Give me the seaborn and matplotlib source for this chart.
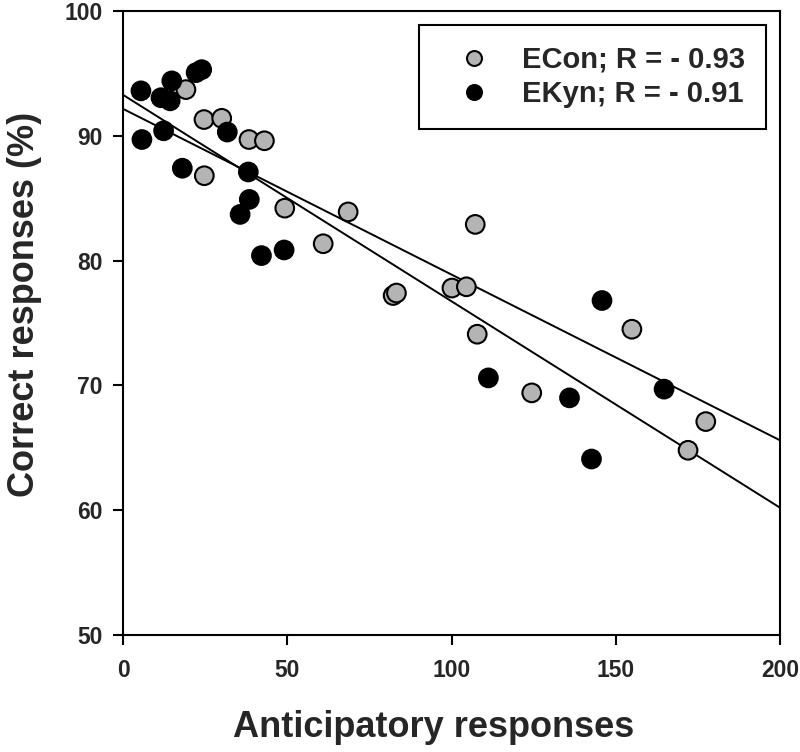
import numpy as np
import pandas as pd
import matplotlib
matplotlib.use("Agg")
import matplotlib.pyplot as plt
import seaborn as sns

# ECon group (grey circles)
econ_x = [19.1, 24.6, 30.0, 38.3, 43.0, 24.7, 49.2, 68.5, 60.9, 107.2,
          82.2, 83.2, 100.1, 104.5, 107.8, 124.4, 177.4, 172.0, 154.9]
econ_y = [93.7, 91.3, 91.4, 89.7, 89.6, 86.8, 84.2, 83.9, 81.35, 82.9,
          77.2, 77.4, 77.8, 77.9, 74.1, 69.4, 67.1, 64.8, 74.5]

# EKyn group (black circles)
ekyn_x = [5.4, 5.7, 12.3, 14.8, 11.5, 14.3, 22.2, 23.9, 18.0, 31.7,
          38.1, 38.4, 35.6, 42.1, 49.0, 111.2, 164.7, 135.9, 142.6, 145.8]
ekyn_y = [93.6, 89.7, 90.4, 94.4, 93.05, 92.8, 95.06, 95.3, 87.4, 90.3,
          87.1, 84.9, 83.7, 80.4, 80.85, 70.6, 69.7, 69.0, 64.1, 76.8]

# regression lines (value at x = 0 and x = 200)
fit_x = [0, 200]
econ_fit = [92.15, 65.6]
ekyn_fit = [93.27, 60.2]

labels = ["ECon; R = - 0.93", "EKyn; R = - 0.91"]

df = pd.DataFrame({
    "x": econ_x + ekyn_x,
    "y": econ_y + ekyn_y,
    "group": [labels[0]] * len(econ_x) + [labels[1]] * len(ekyn_x),
})

sns.set_theme(style="ticks")
plt.rcParams["font.family"] = ["Liberation Sans", "DejaVu Sans"]
plt.rcParams["font.weight"] = "bold"

fig = plt.figure(figsize=(8, 7.52), dpi=100)
ax = fig.add_axes([0.154, 0.1556, 0.821, 0.8298])

ax.plot(fit_x, econ_fit, color="black", lw=1.4, zorder=2)
ax.plot(fit_x, ekyn_fit, color="black", lw=1.4, zorder=2)

sns.scatterplot(data=df, x="x", y="y", hue="group", hue_order=labels,
                palette={labels[0]: "#b4b4b4", labels[1]: "black"},
                s=180, edgecolor="black", linewidth=1.5, zorder=3, ax=ax)

ax.set_xlim(0, 200)
ax.set_ylim(50, 100)
ax.set_xticks([0, 50, 100, 150, 200])
ax.set_yticks([50, 60, 70, 80, 90, 100])

for sp in ax.spines.values():
    sp.set_visible(True)
    sp.set_linewidth(1.5)
    sp.set_color("black")
ax.tick_params(direction="out", length=7, width=1.5, color="black",
               labelsize=16.5)
ax.tick_params(axis="x", pad=10)
ax.tick_params(axis="y", pad=8)
for t in ax.get_xticklabels() + ax.get_yticklabels():
    t.set_fontweight("bold")

ax.set_xlabel("Anticipatory responses", fontsize=26, fontweight="bold")
ax.set_ylabel("Correct responses (%)", fontsize=26, fontweight="bold")
ax.xaxis.set_label_coords(0.4726, -0.121)
ax.yaxis.set_label_coords(-0.123, 0.530)

handles, _ = ax.get_legend_handles_labels()
leg = ax.legend(handles, labels, loc="upper right",
                prop={"weight": "bold", "size": 21},
                frameon=True, fancybox=False, edgecolor="black", framealpha=1,
                borderpad=0.72, borderaxespad=0.48, handlelength=2.3,
                handletextpad=0.5, labelspacing=0.2, markerscale=0.8)
leg.get_frame().set_linewidth(1.5)

fig.savefig("out.png", dpi=100)
